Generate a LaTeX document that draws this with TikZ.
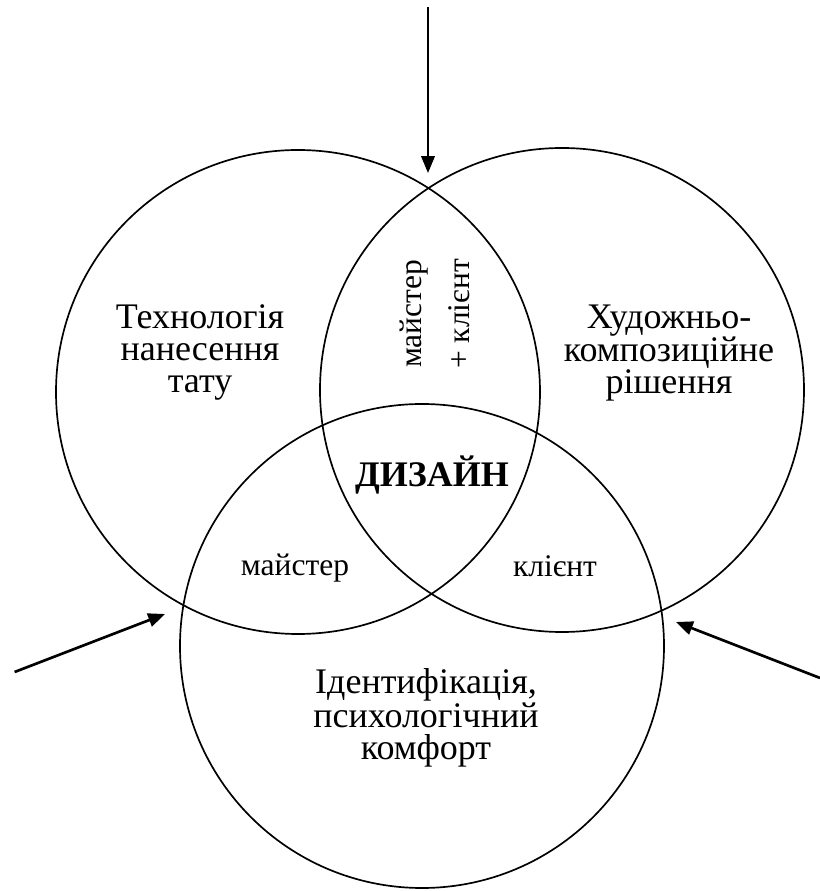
\documentclass[tikz,border=0pt]{standalone}
\usepackage{fontspec}
\setmainfont{Liberation Serif}
\usetikzlibrary{arrows.meta}

\begin{document}
\begin{tikzpicture}[
    ring/.style={line width=1.2pt},
    pointer/.style={-{Triangle[length=0.42cm,width=0.34cm]}},
    biglabel/.style={align=center, font=\fontsize{25.6}{22.8}\selectfont},
    smalllabel/.style={font=\fontsize{22.4}{22.4}\selectfont}
  ]
     \useasboundingbox (0,0) rectangle (20.5,22.275);

     % three circles
     \coordinate (tech) at (7.45,12.475);
     \coordinate (art) at (14.05,12.525);
     \coordinate (ident) at (10.55,6.125);
     \draw [ring] (tech) circle (6.05);
     \draw [ring] (art) circle (6.05);
     \draw [ring] (ident) circle (6.05);

     % arrows from outside
     \coordinate (topstart) at (10.7,22.1);
     \coordinate (toptip) at (10.7,17.95);
     \coordinate (leftstart) at (0.365,5.475);
     \coordinate (lefttip) at (4.125,6.925);
     \coordinate (rightstart) at (20.5,5.325);
     \coordinate (righttip) at (16.9,6.725);
     \draw [pointer, line width=1.2pt] (topstart) -- (toptip);
     \draw [pointer, line width=1.9pt] (leftstart) -- (lefttip);
     \draw [pointer, line width=1.9pt] (rightstart) -- (righttip);

     \node (techtext) [biglabel] at (5,13.46) {Технологія\\нанесення\\тату};
     \node (arttext) [biglabel] at (16.725,13.45) {Художньо-\\композиційне\\рішення};
     \node (identtext) [biglabel] at (10.65,4.335) {Ідентифікація,\\психологічний\\комфорт};
     \node (design) [anchor=base, font=\fontsize{25.6}{22.8}\selectfont\bfseries] at (10.8,10.1) {ДИЗАЙН};

     \node (master) [smalllabel, anchor=base] at (7.375,7.875) {майстер};
     \node (client) [smalllabel, anchor=base] at (13.875,7.85) {клієнт};
     \node (both) [align=center, rotate=90, font=\fontsize{22.4}{34.1}\selectfont] at (10.88,14.425) {майстер\\+ клієнт};
\end{tikzpicture}
\end{document}
